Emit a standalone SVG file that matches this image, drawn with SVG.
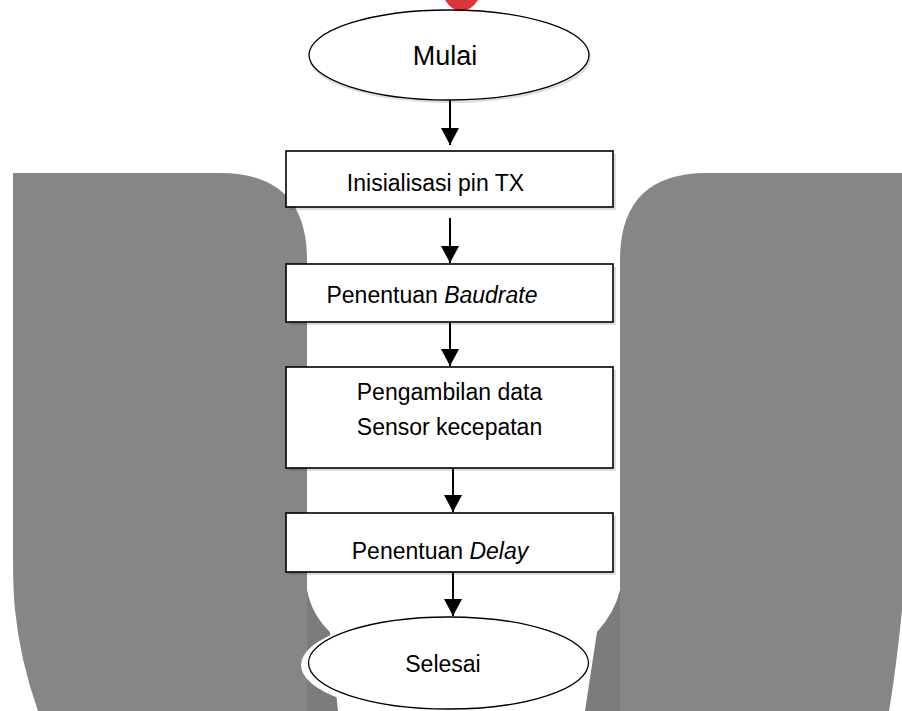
<svg xmlns="http://www.w3.org/2000/svg" width="902" height="711" viewBox="0 0 902 711">
  <style>
    .lbl { font-family: "Liberation Sans", Arial, sans-serif; fill: #000; text-anchor: middle; }
    .box { fill: #fff; stroke: #000; stroke-width: 1.6; }
    .shd { fill: #000; opacity: 0.13; }
    .term { fill: #fff; stroke: #000; stroke-width: 1.3; }
    .conn { stroke: #000; stroke-width: 2; fill: none; marker-end: url(#ah); }
    .wm { fill: #858688; }
    .wmd { fill: #7b7c7e; }
  </style>
  <defs>
    <marker id="ah" viewBox="0 0 17 18" markerWidth="17" markerHeight="18" refX="17" refY="9" orient="auto" markerUnits="userSpaceOnUse">
      <path d="M0,0 L17,9 L0,18 Z" fill="#000"/>
    </marker>
  </defs>

  <rect x="0" y="0" width="902" height="711" fill="#fff"/>

  <g id="watermark">
    <path class="wm" d="M13,173 H220 Q307,173 307,260 V711 H38 Q20,660 15,610 Q13,590 13,560 Z"/>
    <path class="wm" d="M707,173 H902 V610 Q896,670 889,711 H620 V260 Q620,173 707,173 Z"/>
    <path class="wmd" d="M307,590 Q312,615 330,632 L338,711 H307 Z"/>
    <path class="wmd" d="M620,590 Q615,612 597,632 L585,711 H620 Z"/>
    <path d="M445,0 Q452,11 461,11 Q471,11 478,0 Z" fill="#d9363a"/>
  </g>

  <g id="start">
    <ellipse class="shd" cx="450" cy="58" rx="141" ry="45"/>
    <ellipse class="term" cx="449" cy="55" rx="140" ry="45"/>
    <text class="lbl" x="445" y="65" font-size="27">Mulai</text>
  </g>

  <g id="init">
    <rect class="shd" x="289" y="154" width="327" height="56"/>
    <rect class="box" x="286" y="151" width="327" height="56"/>
    <text class="lbl" x="435.5" y="191" font-size="23">Inisialisasi pin TX</text>
  </g>

  <g id="baudrate">
    <rect class="shd" x="289" y="267" width="327" height="58"/>
    <rect class="box" x="286" y="264" width="327" height="58"/>
    <text class="lbl" x="432" y="303" font-size="23">Penentuan <tspan font-style="italic">Baudrate</tspan></text>
  </g>

  <g id="sensor">
    <rect class="shd" x="289" y="370" width="327" height="101"/>
    <rect class="box" x="286" y="367" width="327" height="101"/>
    <text class="lbl" x="449.5" y="400" font-size="23">Pengambilan data</text>
    <text class="lbl" x="449.5" y="435" font-size="23">Sensor kecepatan</text>
  </g>

  <g id="delay">
    <rect class="shd" x="289" y="516" width="327" height="59"/>
    <rect class="box" x="286" y="513" width="327" height="59"/>
    <text class="lbl" x="440" y="559" font-size="23">Penentuan <tspan font-style="italic">Delay</tspan></text>
  </g>

  <g id="end">
    <ellipse cx="445" cy="665" rx="144" ry="49" fill="#fff"/>
    <ellipse class="term" cx="448.5" cy="663" rx="140" ry="46"/>
    <text class="lbl" x="443" y="672" font-size="23">Selesai</text>
  </g>

  <g id="connectors">
    <line class="conn" x1="450" y1="100" x2="450" y2="145"/>
    <line class="conn" x1="450" y1="218" x2="450" y2="263"/>
    <line class="conn" x1="450" y1="322" x2="450" y2="366"/>
    <line class="conn" x1="453" y1="468" x2="453" y2="512"/>
    <line class="conn" x1="453" y1="572" x2="453" y2="616"/>
  </g>
</svg>
